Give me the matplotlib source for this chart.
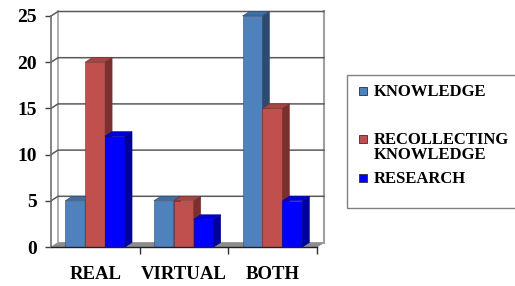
import numpy as np
import matplotlib.pyplot as plt
from matplotlib.patches import Polygon, Rectangle

categories = ['REAL', 'VIRTUAL', 'BOTH']
series_names = ['KNOWLEDGE', 'RECOLLECTING\nKNOWLEDGE', 'RESEARCH']
knowledge = [5, 5, 25]
recollecting = [20, 5, 15]
research = [12, 3, 5]
values = [knowledge, recollecting, research]
yticks = [0, 5, 10, 15, 20, 25]

front_colors = ['#4F81BD', '#C0504D', '#0000FF']
top_colors = ['#3F6DA5', '#A84442', '#0000D8']
side_colors = ['#2E4A70', '#7A302E', '#00009A']

plt.rcParams['font.family'] = ['Liberation Serif', 'DejaVu Serif']
plt.rcParams['font.weight'] = 'bold'

W, H = 515, 286
fig = plt.figure(figsize=(W / 100, H / 100), dpi=100)

# front plot area in pixels
x0, x1, y0, y1 = 51, 317, 16, 247
ax = fig.add_axes([x0 / W, 1 - y1 / H, (x1 - x0) / W, (y1 - y0) / H])
ncat = len(categories)
ymax = yticks[-1]
ax.set_xlim(0, ncat)
ax.set_ylim(0, ymax)

# 3D depth offset (px -> data)
ddx = 7 * ncat / (x1 - x0)
ddy = 4.5 * ymax / (y1 - y0)

grid_c = '#5a5a5a'
wall_c = '#a0a0a0'

# floor
ax.add_patch(Polygon([(0, 0), (ncat, 0), (ncat + ddx, ddy), (ddx, ddy)],
                     closed=True, fc='#8c8c8c', ec='#8c8c8c', lw=0.5,
                     clip_on=False, zorder=1))
# wall edges
ax.plot([ddx, ddx], [ddy, ymax + ddy], color=wall_c, lw=1.2, clip_on=False, zorder=1)
ax.plot([ncat + ddx, ncat + ddx], [ddy, ymax + ddy], color=wall_c, lw=1.5, clip_on=False, zorder=1)
# gridlines on back and left walls
for v in yticks[1:]:
    ax.plot([0, ddx, ncat + ddx], [v, v + ddy, v + ddy], color=grid_c, lw=1.1,
            clip_on=False, zorder=1)

# bars
start, bw = 0.16, 0.225
z = 3
for i in range(ncat):
    for j, vals in enumerate(values):
        h = vals[i]
        left = i + start + j * bw
        right = left + bw
        ax.bar(left, h, bw, align='edge', color=front_colors[j], edgecolor=side_colors[j],
               linewidth=0.4, zorder=z)
        ax.add_patch(Polygon([(left, h), (right, h), (right + ddx, h + ddy), (left + ddx, h + ddy)],
                             closed=True, fc=top_colors[j], ec=side_colors[j], lw=0.4,
                             clip_on=False, zorder=z))
        ax.add_patch(Polygon([(right, 0), (right + ddx, ddy), (right + ddx, h + ddy), (right, h)],
                             closed=True, fc=side_colors[j], ec=side_colors[j], lw=0.4,
                             clip_on=False, zorder=z))
        z += 1

for s in ['top', 'right']:
    ax.spines[s].set_visible(False)
ax.spines['left'].set_color('#707070')
ax.spines['left'].set_linewidth(1.2)
ax.spines['bottom'].set_color('#202020')
ax.spines['bottom'].set_linewidth(1.0)
ax.spines['bottom'].set_zorder(50)
ax.patch.set_visible(False)

ax.set_yticks(yticks)
ax.tick_params(axis='y', length=4, width=1, color='#404040', pad=6, labelsize=14)
ax.set_xticks(np.arange(ncat) + 0.5)
ax.set_xticklabels(categories)
ax.set_xticks(np.arange(1, ncat + 1), minor=True)
ax.tick_params(axis='x', which='major', length=0, pad=14, labelsize=13.5)
ax.tick_params(axis='x', which='minor', length=5, width=1, color='#303030')

# legend box
fig.patches.append(Rectangle((347 / W, 1 - 208 / H), 200 / W, 133 / H, transform=fig.transFigure,
                             fc='white', ec='#808080', lw=1.0))
leg_base = [96, 144, 183]
for j, name in enumerate(series_names):
    yb = leg_base[j]
    fig.patches.append(Rectangle((359 / W, 1 - (yb - 1) / H), 8 / W, 8 / H,
                                 transform=fig.transFigure, fc=front_colors[j],
                                 ec='#303030', lw=0.6))
    for k, line in enumerate(name.split('\n')):
        fig.text(374 / W, 1 - (yb + 15 * k) / H, line, ha='left', va='baseline',
                 fontsize=12, fontweight='bold')

fig.savefig('out.png', dpi=100)
